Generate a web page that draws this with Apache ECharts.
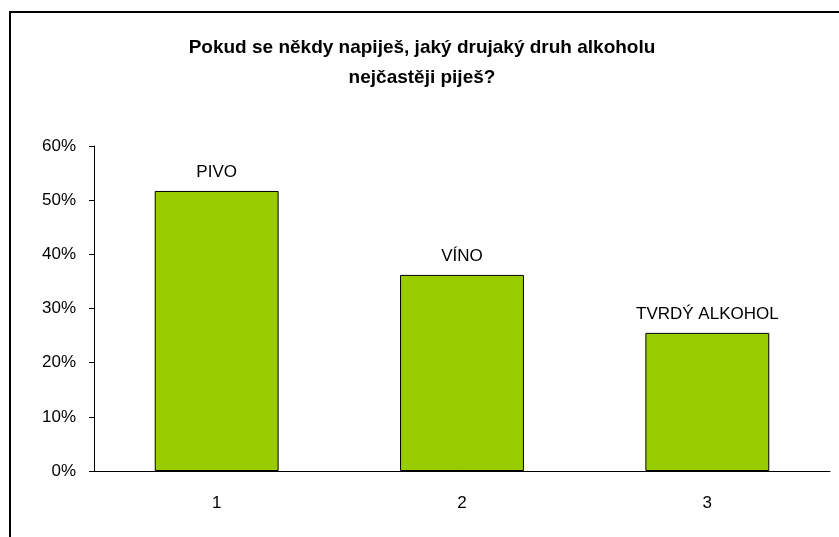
<!DOCTYPE html>
<html>
<head>
<meta charset="utf-8">
<script src="https://cdn.jsdelivr.net/npm/echarts@6/dist/echarts.min.js"></script>
<style>
  html, body { margin: 0; padding: 0; background: #fff; }
  #main { width: 839px; height: 537px; }
</style>
</head>
<body>
<div id="main"></div>
<script>
// data
const categories = ['1', '2', '3']
const drinkNames = ['PIVO', 'VÍNO', 'TVRDÝ ALKOHOL']
const shares = [51.7, 36.2, 25.5]

const mychart = echarts.init(document.getElementById('main'))

const font = 'Liberation Sans, Arial, sans-serif'

const option = {
    animation: false,
    textStyle: { fontFamily: font },
    title: {
        text: 'Pokud se někdy napiješ, jaký drujaký druh alkoholu\nnejčastěji piješ?',
        left: 417,
        top: 28,
        textAlign: 'center',
        textStyle: {
            fontFamily: font,
            fontSize: 19,
            fontWeight: 'bold',
            color: '#000',
            lineHeight: 30
        }
    },
    graphic: [
        {
            type: 'rect',
            shape: { x: 10, y: 12, width: 860, height: 560 },
            style: { fill: 'none', stroke: '#000', lineWidth: 2 },
            silent: true
        }
    ],
    grid: { left: 94, right: 9, top: 146, bottom: 66 },
    xAxis: {
        type: 'category',
        data: categories,
        axisLine: { lineStyle: { color: '#000', width: 1 } },
        axisTick: { length: 5, lineStyle: { color: '#000' } },
        axisLabel: { color: '#000', fontSize: 17, margin: 24, fontFamily: font }
    },
    yAxis: {
        type: 'value',
        min: 0,
        max: 60,
        interval: 10,
        axisLine: { show: true, lineStyle: { color: '#000', width: 1 } },
        axisTick: { show: true, length: 5, lineStyle: { color: '#000' } },
        splitLine: { show: false },
        axisLabel: { color: '#000', fontSize: 17, margin: 18, fontFamily: font, formatter: '{value}%' }
    },
    series: [
        {
            type: 'bar',
            barWidth: '50.5%',
            data: shares.map((v, i) => ({ value: v, name: drinkNames[i] })),
            itemStyle: { color: '#99cc00', borderColor: '#000', borderWidth: 1 },
            label: {
                show: true,
                position: 'top',
                distance: 10,
                formatter: p => drinkNames[p.dataIndex],
                color: '#000',
                fontSize: 17,
                fontFamily: font
            }
        }
    ]
}

mychart.setOption(option)

window.addEventListener('resize', () => {
    mychart.resize()
})
</script>
</body>
</html>
